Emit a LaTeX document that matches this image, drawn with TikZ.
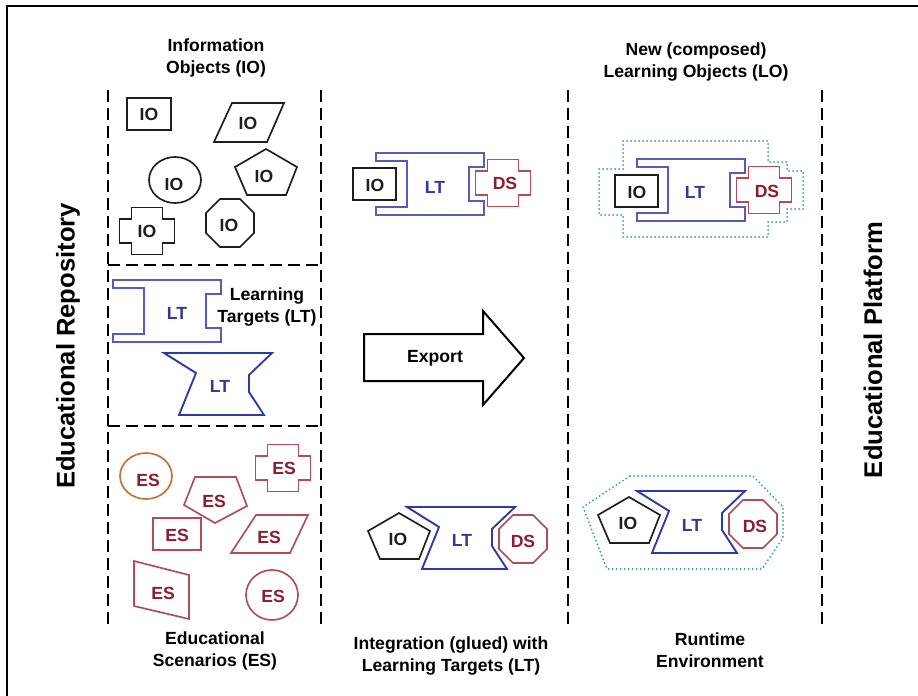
\documentclass[tikz,border=0pt]{standalone}
\usepackage{fontspec}
\setmainfont{Liberation Sans}
\definecolor{ioblack}{HTML}{1E1E1E}
\definecolor{ltclamp}{HTML}{5A5AB8}
\definecolor{ltblue}{HTML}{2B3BA8}
\definecolor{lttext}{HTML}{35389A}
\definecolor{esred}{HTML}{B24C5C}
\definecolor{estext}{HTML}{8C1D2D}
\definecolor{esorange}{HTML}{C6722E}
\definecolor{lodots}{HTML}{2A9E9E}
\begin{document}
\begin{tikzpicture}[x=0.75pt,y=-0.75pt]
    \tikzset{
        lbl/.style={font=\fontsize{13.2}{16.5}\selectfont\bfseries, align=center, inner sep=0pt},
        side/.style={font=\fontsize{19.2}{22}\selectfont\bfseries, rotate=90, inner sep=0pt},
        iotxt/.style={lbl, text=ioblack},
        lttxt/.style={lbl, text=lttext},
        estxt/.style={lbl, text=estext},
        io/.style={draw=ioblack, line width=1.25pt},
        lt/.style={draw=ltclamp, line width=1.25pt},
        ltd/.style={draw=ltblue, line width=1.4pt},
        es/.style={draw=esred, line width=1.25pt},
        zone/.style={line width=2pt, dash pattern=on 9pt off 4.5pt},
        lo/.style={draw=lodots, line width=1.5pt, dash pattern=on 0pt off 3pt, line cap=round},
    }
    \def\crosspath{(-15.5,-23.5) -- (15.5,-23.5) -- (15.5,-12) -- (27.5,-12) -- (27.5,12) -- (15.5,12) -- (15.5,23.5) -- (-15.5,23.5) -- (-15.5,12) -- (-27.5,12) -- (-27.5,-12) -- (-15.5,-12) -- cycle}
    \def\clamppath{(-54,-31) -- (54,-31) -- (54,-17) -- (39,-17) -- (39,17) -- (54,17) -- (54,31) -- (-54,31) -- (-54,23) -- (-23,23) -- (-23,-23) -- (-54,-23) -- cycle}
    \def\hourpath{(-54,-31) -- (54,-31) -- (31,-9) -- (31,8) -- (46,31) -- (-39,31) -- (-22,-11) -- cycle}
    \def\pentpath{(0,-26) -- (31,-8) -- (20,20) -- (-19,20) -- (-31,-8) -- cycle}
    \def\octpath{(22.5:26) \foreach \a in {67.5,112.5,...,337.5} {-- (\a:26)} -- cycle}
    \useasboundingbox (0,0) rectangle (918,696);
    \draw [line width=1.5pt] (7,696) -- (7,6) -- (918,6);
    % zones
    \draw [zone] (108,90) -- (108,625);
    \draw [zone] (321,90) -- (321,625);
    \draw [zone] (108,265) -- (321,265);
    \draw [zone] (108,426) -- (321,426);
    \draw [zone] (568,90) -- (568,625);
    \draw [zone] (822,90) -- (822,625);
    \node [side] (repo) at (68,346) {Educational Repository};
    \node [side] (platform) at (873,350) {Educational Platform};
    \node [lbl] (infoobj) at (216,58) {Information\\Objects (IO)};
    \node [lbl] (newlo) at (696,62) {New (composed)\\Learning Objects (LO)};
    \node [lbl] (scen) at (215,651) {Educational\\Scenarios (ES)};
    \node [lbl] (integ) at (451,656) {Integration (glued) with\\Learning Targets (LT)};
    \node [lbl] (runtime) at (710,650) {Runtime\\Environment};
    \node [lbl] (targets) at (267,307) {Learning\\Targets (LT)};
    % information objects
    \draw [io] (127,98) rectangle (171,130);
    \node [iotxt] (io1) at (149,114) {IO};
    \draw [io] (232,103) -- (284,103) -- (267,142) -- (214,142) -- cycle;
    \node [iotxt] (io2) at (248,123) {IO};
    \draw [io] (175,180) ellipse [x radius=26, y radius=23];
    \node [iotxt] (io3) at (174,184) {IO};
    \draw [io,shift={(266,175)}] \pentpath;
    \node [iotxt] (io4) at (264,176) {IO};
    \draw [io,shift={(147,231)}] \crosspath;
    \node [iotxt] (io5) at (147,231) {IO};
    \draw [io,shift={(230,223)}] \octpath;
    \node [iotxt] (io6) at (229,225) {IO};
    % learning targets
    \draw [lt,shift={(167,311)}] \clamppath;
    \node [lttxt] (lt1) at (177,313) {LT};
    \draw [ltd,shift={(218,384)}] \hourpath;
    \node [lttxt] (lt2) at (220,386) {LT};
    % scenarios
    \draw [draw=esorange, line width=1.25pt] (146,476) ellipse [x radius=26, y radius=23];
    \node [estxt] (es1) at (148,480) {ES};
    \draw [es,shift={(283,468)}] \crosspath;
    \node [estxt] (es2) at (284,468) {ES};
    \draw [es] (195,477) -- (236,477) -- (247,506) -- (215,523) -- (184,505) -- cycle;
    \node [estxt] (es3) at (214,501) {ES};
    \draw [es] (153,518) rectangle (201,550);
    \node [estxt] (es4) at (177,535) {ES};
    \draw [es] (256,515) -- (308,515) -- (290,553) -- (231,553) -- cycle;
    \node [estxt] (es5) at (269,537) {ES};
    \draw [es] (134,561) -- (189,575) -- (189,619) -- (134,606) -- cycle;
    \node [estxt] (es6) at (163,593) {ES};
    \draw [es] (272,595) ellipse [x radius=26, y radius=25];
    \node [estxt] (es7) at (273,596) {ES};
    % export
    \draw [line width=1.5pt] (364,334) -- (483,334) -- (483,311) -- (524,358) -- (483,405) -- (483,381) -- (364,381) -- cycle;
    \node [lbl] (export) at (435,358) {Export};
    % glued objects
    \draw [lt,shift={(430,184)}] \clamppath;
    \draw [io] (353,168) rectangle (396,200);
    \draw [es,shift={(503,183)}] \crosspath;
    \node [iotxt] (gio1) at (375,185) {IO};
    \node [lttxt] (glt1) at (435,187) {LT};
    \node [estxt] (gds1) at (505,183) {DS};
    \draw [ltd,shift={(461,538)}] \hourpath;
    \draw [io,shift={(399,539)}] \pentpath;
    \draw [es,shift={(523,539)}] \octpath;
    \node [iotxt] (gio2) at (398,539) {IO};
    \node [lttxt] (glt2) at (462,540) {LT};
    \node [estxt] (gds2) at (523,541) {DS};
    % learning objects
    \draw [lo] (623,141) -- (768,141) -- (768,162) -- (787,162) -- (787,171) -- (803,171) -- (803,209) -- (787,209) -- (787,222) -- (768,222) -- (768,237) -- (623,237) -- (623,215) -- (599,215) -- (599,169) -- (623,169) -- cycle;
    \draw [lt,shift={(691,190)}] \clamppath;
    \draw [io] (615,175) rectangle (658,207);
    \draw [es,shift={(764,190)}] \crosspath;
    \node [iotxt] (lio1) at (637,192) {IO};
    \node [lttxt] (llt1) at (695,192) {LT};
    \node [estxt] (lds1) at (767,191) {DS};
    \draw [lo] (630,476) -- (753,476) -- (783,507) -- (783,538) -- (762,569) -- (607,569) -- (583,507) -- cycle;
    \draw [ltd,shift={(691,522)}] \hourpath;
    \draw [io,shift={(629,523)}] \pentpath;
    \draw [es,shift={(753,524)}] \octpath;
    \node [iotxt] (lio2) at (628,523) {IO};
    \node [lttxt] (llt2) at (692,525) {LT};
    \node [estxt] (lds2) at (755,526) {DS};
\end{tikzpicture}
\end{document}
